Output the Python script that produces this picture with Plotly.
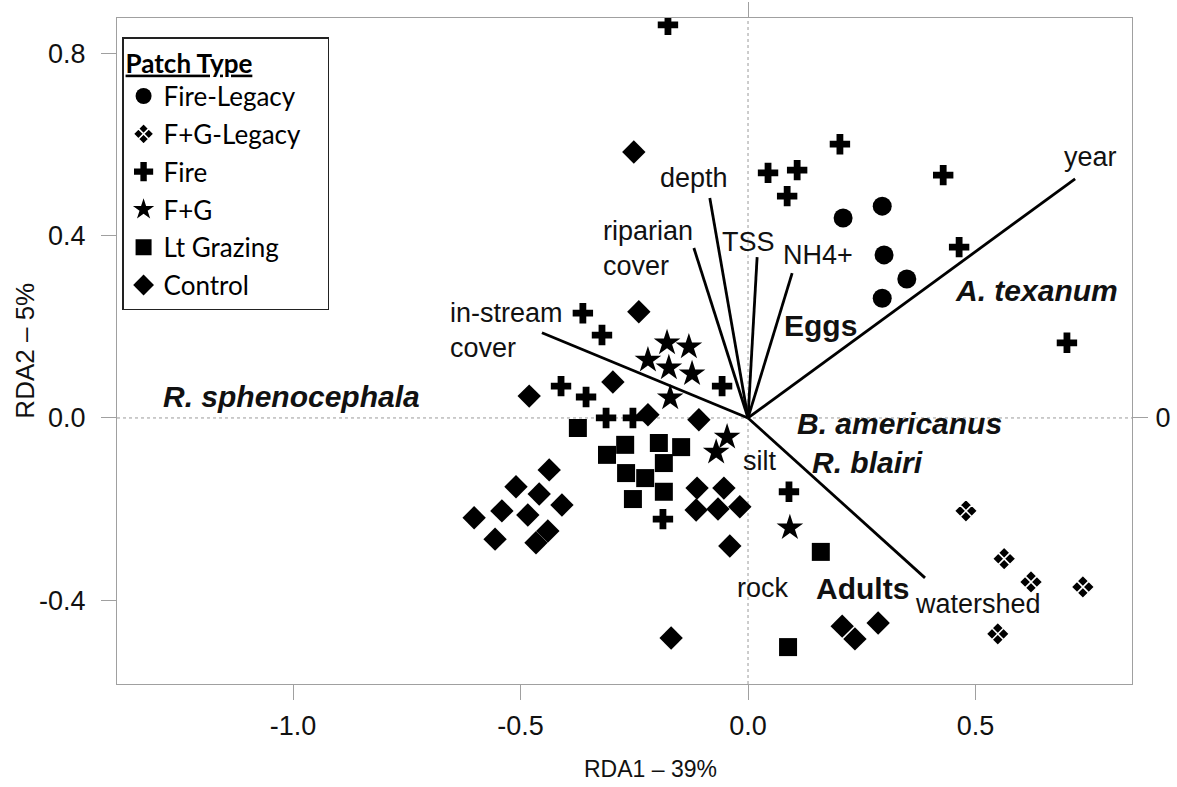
import plotly.graph_objects as go

# ---------------- data ----------------
fire_legacy_x = [0.209, 0.295, 0.299, 0.349, 0.295]
fire_legacy_y = [0.439, 0.465, 0.358, 0.305, 0.263]

fg_legacy_x = [0.479, 0.563, 0.622, 0.736, 0.549]
fg_legacy_y = [-0.204, -0.309, -0.360, -0.371, -0.474]

fire_x = [-0.176, 0.202, 0.044, 0.108, 0.086, 0.429, 0.464, 0.701, -0.363,
          -0.321, -0.411, -0.356, -0.312, -0.253, -0.057, -0.187, 0.090]
fire_y = [0.863, 0.601, 0.538, 0.544, 0.487, 0.533, 0.375, 0.165, 0.230,
          0.182, 0.070, 0.046, 0.000, 0.000, 0.070, -0.222, -0.162]

fg_x = [-0.178, -0.130, -0.220, -0.174, -0.123, -0.171, -0.046, -0.070, 0.092]
fg_y = [0.165, 0.156, 0.127, 0.110, 0.097, 0.044, -0.042, -0.075, -0.241]

grazing_x = [-0.374, -0.270, -0.310, -0.196, -0.147, -0.268, -0.226, -0.185,
             -0.185, -0.253, 0.160, 0.088]
grazing_y = [-0.022, -0.059, -0.081, -0.055, -0.064, -0.121, -0.132, -0.099,
             -0.162, -0.178, -0.294, -0.503]

control_x = [-0.251, -0.240, -0.481, -0.297, -0.220, -0.108, -0.112, -0.053,
             -0.114, -0.066, -0.018, -0.040, -0.169, 0.207, 0.286, 0.235,
             -0.437, -0.510, -0.459, -0.409, -0.541, -0.484, -0.602, -0.440,
             -0.556, -0.466]
control_y = [0.584, 0.233, 0.048, 0.079, 0.007, -0.004, -0.154, -0.154,
             -0.202, -0.200, -0.195, -0.281, -0.483, -0.457, -0.450, -0.485,
             -0.114, -0.151, -0.167, -0.191, -0.204, -0.213, -0.219, -0.248,
             -0.266, -0.274]

# environmental vectors (arrow tips)
env_names = ["year", "watershed", "in-stream cover", "riparian cover", "depth", "TSS", "NH4+"]
env_x = [0.719, 0.389, -0.453, -0.119, -0.084, 0.020, 0.097]
env_y = [0.525, -0.351, 0.187, 0.373, 0.483, 0.353, 0.318]

# environmental labels
lab_text = ["year", "depth", "riparian<br>cover", "TSS", "NH4+",
            "in-stream<br>cover", "silt", "rock", "watershed"]
lab_x = [0.752, -0.119, -0.323, 0.002, 0.154, -0.659, 0.026, 0.033, 0.505]
lab_y = [0.573, 0.527, 0.371, 0.386, 0.358, 0.193, -0.094, -0.373, -0.408]
lab_anchor = ["center", "center", "left", "center", "center", "left", "center", "center", "center"]

# species scores
species = ["R. sphenocephala", "A. texanum", "B. americanus", "R. blairi"]
species_x = [-1.004, 0.633, 0.334, 0.262]
species_y = [0.048, 0.279, -0.013, -0.097]

# response scores
response = ["Eggs", "Adults"]
response_x = [0.160, 0.251]
response_y = [0.204, -0.375]

x_ticks = [-1.0, -0.5, 0.0, 0.5]
y_ticks = [-0.4, 0.0, 0.4, 0.8]

# ---------------- figure ----------------
fig = go.Figure()

groups = [
    ("Fire-Legacy", fire_legacy_x, fire_legacy_y, dict(symbol="circle", size=19)),
    ("F+G-Legacy", fg_legacy_x, fg_legacy_y,
     dict(symbol="diamond-x", size=18, line=dict(color="white", width=1.6))),
    ("Fire", fire_x, fire_y, dict(symbol="cross", size=17)),
    ("F+G", fg_x, fg_y, dict(symbol="star", size=20)),
    ("Lt Grazing", grazing_x, grazing_y, dict(symbol="square", size=18)),
    ("Control", control_x, control_y, dict(symbol="diamond", size=18)),
]
for i, (name, xs, ys, mk) in enumerate(groups):
    mk = dict(mk)
    mk["color"] = "black"
    fig.add_trace(go.Scatter(x=xs, y=ys, mode="markers", name=name,
                             legendgroup=f"g{i}", marker=mk, hoverinfo="skip"))

# arrows from origin
arr_x, arr_y = [], []
for xv, yv in zip(env_x, env_y):
    arr_x += [0, xv, None]
    arr_y += [0, yv, None]
fig.add_trace(go.Scatter(x=arr_x, y=arr_y, mode="lines",
                         line=dict(color="black", width=2.8),
                         showlegend=False, hoverinfo="skip"))

# dummy traces to activate the top and right axes
fig.add_trace(go.Scatter(x=[], y=[], xaxis="x2", yaxis="y", showlegend=False))
fig.add_trace(go.Scatter(x=[], y=[], xaxis="x", yaxis="y2", showlegend=False))

FONT = "Liberation Sans, Arial, sans-serif"
label_font = dict(family=FONT, size=27, color="#111")
for t, xv, yv, anc in zip(lab_text, lab_x, lab_y, lab_anchor):
    fig.add_annotation(x=xv, y=yv, text=t, showarrow=False, xanchor=anc,
                       yanchor="middle", align="left", font=label_font)

for t, xv, yv in zip(species, species_x, species_y):
    fig.add_annotation(x=xv, y=yv, text=f"<b><i>{t}</i></b>", showarrow=False,
                       xanchor="center", yanchor="middle",
                       font=dict(family=FONT, size=30, color="#111"))

for t, xv, yv in zip(response, response_x, response_y):
    fig.add_annotation(x=xv, y=yv, text=f"<b>{t}</b>", showarrow=False,
                       xanchor="center", yanchor="middle",
                       font=dict(family=FONT, size=30, color="#111"))

# axis titles
fig.add_annotation(xref="paper", yref="paper", x=0.526, y=-0.128, text="RDA1 – 39%",
                   showarrow=False, xanchor="center", yanchor="middle",
                   font=dict(family=FONT, size=23, color="#111"))
fig.add_annotation(xref="paper", yref="paper", x=-0.091, y=0.5, text="RDA2 – 5%",
                   showarrow=False, xanchor="center", yanchor="middle", textangle=-90,
                   font=dict(family=FONT, size=26, color="#111"))

# dotted zero lines
fig.add_shape(type="line", xref="x", yref="paper", x0=0, x1=0, y0=0, y1=1,
              line=dict(color="#9a9a9a", width=1, dash="dot"), layer="below")
fig.add_shape(type="line", xref="paper", yref="y", x0=0, x1=1, y0=0, y1=0,
              line=dict(color="#9a9a9a", width=1, dash="dot"), layer="below")

xr = [-1.387, 0.844]
yr = [-0.584, 0.878]
axis_common = dict(showgrid=False, zeroline=False, ticks="outside", ticklen=15,
                   tickcolor="#a0a0a0", tickwidth=1, automargin=False)
tick_font = dict(family=FONT, size=27, color="#111")

LEG_FONT = "Lato, Open Sans, sans-serif"
fig.update_layout(
    width=1177, height=787,
    margin=dict(l=117, r=45, t=18, b=103),
    plot_bgcolor="white", paper_bgcolor="white",
    xaxis=dict(range=xr, tickvals=x_ticks, ticktext=["-1.0", "-0.5", "0.0", "0.5"],
               showline=True, linecolor="#a0a0a0", linewidth=1, mirror=True,
               tickfont=tick_font, ticklabelstandoff=3, **axis_common),
    yaxis=dict(range=yr, tickvals=y_ticks, ticktext=["-0.4", "0.0", "0.4", "0.8"],
               showline=True, linecolor="#a0a0a0", linewidth=1, mirror=True,
               tickfont=tick_font, ticklabelstandoff=10, **axis_common),
    xaxis2=dict(range=xr, overlaying="x", side="top", tickvals=[0], ticktext=[""],
                showline=False, **axis_common),
    yaxis2=dict(range=yr, overlaying="y", side="right", tickvals=[0], ticktext=["0"],
                showline=False, tickfont=tick_font, ticklabelstandoff=2, **axis_common),
    legend=dict(x=0.005, y=0.971, xanchor="left", yanchor="top",
                bordercolor="#222", borderwidth=1.5, bgcolor="white",
                font=dict(family=LEG_FONT, size=26, color="black"),
                title=dict(text="<b><span style='text-decoration:underline'>Patch Type</span></b>"
                                + "&nbsp;" * 11,
                           font=dict(family=LEG_FONT, size=26, color="black")),
                tracegroupgap=1, itemclick=False),
    showlegend=True,
)

fig.write_html("out.html")
